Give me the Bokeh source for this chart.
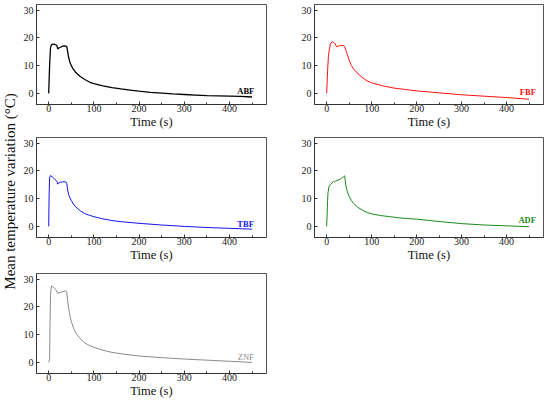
import math
from bokeh.plotting import figure
from bokeh.layouts import row, column
from bokeh.models import FixedTicker, Label, ColumnDataSource
from bokeh.embed import file_html
from bokeh.resources import INLINE

# ---- data ----
abf_t = [0, 2, 4, 6, 8, 10, 14, 18, 20, 22, 26, 30, 34, 38, 40, 42, 44, 47, 50, 54, 60, 69, 80, 91, 100,
         120, 140, 160, 180, 200, 225, 250, 275, 300, 325, 350, 375, 400, 425, 450]
abf_v = [0, 10, 16.5, 17.4, 17.7, 17.7, 17.6, 17.3, 16.0, 16.3, 16.6, 16.9, 17.1, 17.0, 16.8, 15.0, 13.0,
         11.2, 10.0, 8.8, 7.5, 6.2, 5.0, 4.0, 3.5, 2.7, 2.1, 1.6, 1.2, 0.8, 0.4, 0.1, -0.2, -0.4, -0.6,
         -0.8, -0.9, -1.0, -1.1, -1.3]

fbf_t = [0, 2, 4, 6, 8, 10, 13, 16, 19, 22, 26, 30, 34, 38, 40, 42, 44, 46, 50, 55, 60, 70, 80, 90, 100,
         125, 150, 175, 200, 250, 300, 350, 400, 450]
fbf_v = [0, 8, 13.5, 15.8, 17.5, 18.3, 18.5, 18.3, 17.8, 16.8, 17.0, 17.2, 17.3, 17.2, 16.8, 15.8, 15.0,
         14.0, 12.0, 10.0, 8.8, 7.0, 5.6, 4.5, 3.8, 2.7, 1.9, 1.4, 0.9, 0.2, -0.5, -1.0, -1.5, -2.1]

tbf_t = [0, 1, 2, 4, 8, 12, 16, 18, 20, 22, 26, 30, 34, 38, 40, 42, 45, 50, 55, 60, 70, 80, 90, 100,
         120, 140, 160, 180, 200, 250, 300, 350, 400, 450]
tbf_v = [0, 12, 17.5, 18.3, 17.8, 17.2, 16.6, 16.2, 15.2, 15.6, 15.9, 16.0, 16.1, 16.0, 15.5, 13.0, 11.0,
         9.3, 8.0, 7.0, 5.6, 4.6, 4.0, 3.5, 2.7, 2.1, 1.7, 1.4, 1.1, 0.5, 0.0, -0.4, -0.7, -1.0]

adf_t = [0, 1, 2, 3, 5, 8, 12, 15, 18, 20, 25, 30, 35, 38, 40, 41, 43, 46, 50, 55, 60, 70, 80, 90, 100,
         120, 140, 160, 180, 200, 230, 260, 300, 350, 400, 450]
adf_v = [0, 4, 9, 12, 14.3, 15.0, 15.6, 16.2, 16.0, 16.3, 16.6, 17.0, 17.6, 17.9, 18.2, 17.0, 14.5, 12.5,
         10.8, 9.3, 8.2, 6.8, 5.8, 5.0, 4.5, 3.9, 3.5, 3.1, 2.8, 2.6, 2.1, 1.6, 1.0, 0.5, 0.2, -0.1]

znf_t = [0, 2, 3, 4, 6, 8, 12, 16, 20, 22, 26, 30, 34, 38, 40, 42, 44, 47, 50, 55, 60, 70, 80, 90, 100,
         120, 140, 160, 180, 200, 250, 300, 350, 400, 450]
znf_v = [0, 1, 15, 24, 27.5, 27.4, 26.8, 26.2, 24.8, 25.0, 25.2, 25.4, 25.6, 25.8, 25.2, 22.0, 19.5, 16.8,
         14.8, 12.3, 10.6, 8.5, 7.0, 6.1, 5.4, 4.4, 3.6, 3.1, 2.7, 2.3, 1.7, 1.2, 0.8, 0.4, 0.0]

names = ["ABF", "FBF", "TBF", "ADF", "ZNF"]
x_ticks = [0, 100, 200, 300, 400]
x_minor = [50, 150, 250, 350, 450]
y_ticks = [0, 10, 20, 30]

FONT = "Liberation Serif"


def panel(t, v, name, color, lw, lab_x, lab_y, bold, left, right, fw, top, bottom):
    p = figure(frame_width=fw, frame_height=100, x_range=(-27, 482), y_range=(-4, 32),
               output_backend="svg", toolbar_location=None,
               min_border_left=left, min_border_right=right,
               min_border_top=top, min_border_bottom=bottom)
    src = ColumnDataSource(dict(t=t, v=v))
    p.line("t", "v", source=src, line_color=color, line_width=lw)
    p.grid.visible = False
    p.outline_line_color = "#555555"
    p.outline_line_width = 1
    p.background_fill_color = "white"
    p.border_fill_color = "white"
    p.xaxis.ticker = FixedTicker(ticks=x_ticks, minor_ticks=x_minor)
    p.yaxis.ticker = FixedTicker(ticks=y_ticks, minor_ticks=[])
    for ax in (p.xaxis[0], p.yaxis[0]):
        ax.axis_line_color = "#333333"
        ax.major_tick_in = 3
        ax.major_tick_out = 0
        ax.minor_tick_in = 2
        ax.minor_tick_out = 0
        ax.major_tick_line_color = "#333333"
        ax.minor_tick_line_color = "#333333"
        ax.major_label_text_font = FONT
        ax.major_label_text_font_size = "10px"
        ax.major_label_text_color = "#222222"
    p.xaxis.major_label_standoff = 0
    p.yaxis.major_label_standoff = 3
    p.xaxis.axis_label = "Time (s)"
    p.xaxis.axis_label_text_font = FONT
    p.xaxis.axis_label_text_font_size = "12.5px"
    p.xaxis.axis_label_text_font_style = "normal"
    p.xaxis.axis_label_text_color = "#111111"
    p.xaxis.axis_label_standoff = 0
    lab = Label(x=lab_x, y=lab_y, text=name, text_align="right", text_baseline="alphabetic",
                text_font=FONT, text_font_size="8.5px",
                text_font_style="bold" if bold else "normal", text_color=color)
    p.add_layout(lab)
    return p


p1 = panel(abf_t, abf_v, names[0], "#000000", 1.3, 455, 0.8, True, 18, 30, 230, 4, 29)
p2 = panel(fbf_t, fbf_v, names[1], "#ff1010", 1.0, 465, 0.4, True, 18, 1, 229, 4, 29)
p3 = panel(tbf_t, tbf_v, names[2], "#1414f0", 1.0, 454, 1.0, True, 18, 30, 230, 4, 31)
p4 = panel(adf_t, adf_v, names[3], "#1a8a1a", 1.0, 465, 2.2, True, 18, 1, 229, 4, 31)
p5 = panel(znf_t, znf_v, names[4], "#8a8a8a", 1.0, 454, 2.0, False, 18, 30, 230, 5, 25)

yl = figure(width=18, height=398, x_range=(0, 1), y_range=(0, 1), output_backend="svg",
            toolbar_location=None, min_border=0)
yl.axis.visible = False
yl.grid.visible = False
yl.outline_line_color = None
yl.add_layout(Label(x=0.55, y=0.52, text="Mean temperature variation (\u00b0C)", angle=math.pi / 2,
                    text_align="center", text_baseline="middle", text_font=FONT,
                    text_font_size="15px", text_color="#111111"))

grid = column(row(p1, p2), row(p3, p4), row(p5))
layout = row(yl, grid)

open("out.html", "w").write(file_html(layout, INLINE))
